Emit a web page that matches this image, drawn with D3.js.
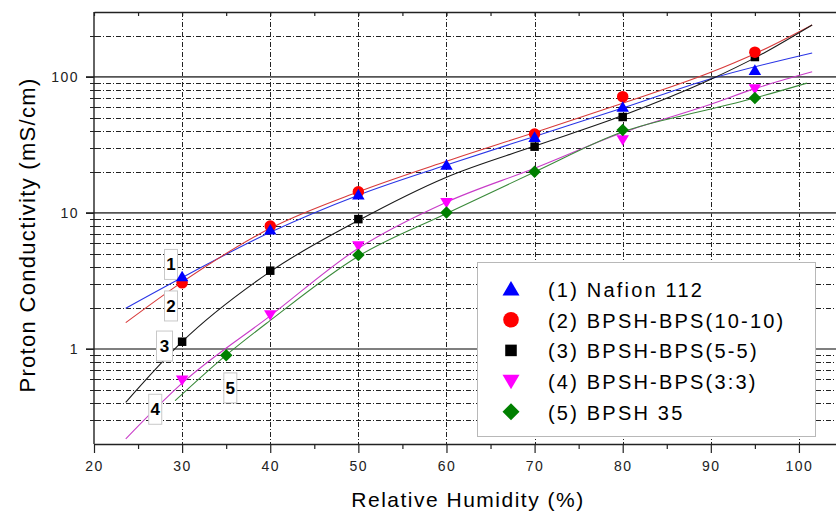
<!DOCTYPE html>
<html>
<head>
<meta charset="utf-8">
<script src="https://cdn.jsdelivr.net/npm/d3@7"></script>
<style>
    body { margin: 0; background: #fff; }
    svg { display: block; font-family: "Liberation Sans", Arial, sans-serif; }
</style>
</head>
<body>
<svg id="chart" width="836" height="512"></svg>
<script>
// tick values
const X_TICKS = [20, 30, 40, 50, 60, 70, 80, 90, 100];
const X_MINOR = [25, 35, 45, 55, 65, 75, 85, 95];
const Y_TICKS = [1, 10, 100];
const Y_MINOR = [0.3, 0.4, 0.5, 0.6, 0.7, 0.8, 0.9, 2, 3, 4, 5, 6, 7, 8, 9, 20, 30, 40, 50, 60, 70, 80, 90, 200];

const SERIES_LABELS = [
    "(1) Nafion 112",
    "(2) BPSH-BPS(10-10)",
    "(3) BPSH-BPS(5-5)",
    "(4) BPSH-BPS(3:3)",
    "(5) BPSH 35",
];

// measured points (RH %, mS/cm)
const NAFION_RH = [30, 40, 50, 60, 70, 80, 95];
const NAFION_VAL = [3.4, 7.5, 13.6, 22.5, 36, 60, 112];
const BPS1010_RH = [30, 40, 50, 70, 80, 95];
const BPS1010_VAL = [3.06, 8.0, 14.3, 38, 71.6, 152];
const BPS55_RH = [30, 40, 50, 70, 80, 95];
const BPS55_VAL = [1.13, 3.76, 9.0, 30.7, 50.7, 140];
const BPS33_RH = [30, 40, 50, 60, 80, 95];
const BPS33_VAL = [0.59, 1.78, 5.72, 11.9, 34.4, 81.6];
const BPSH35_RH = [35, 50, 60, 70, 80, 95];
const BPSH35_VAL = [0.9, 4.9, 10.05, 20.1, 40.7, 70];

// fitted curves
const FIT1_RH = [23.6, 30, 40, 50, 60, 70, 80, 90, 101.5];
const FIT1_VAL = [1.99, 3.35, 7.2, 13.5, 22.5, 36.5, 59, 97, 150];
const FIT2_RH = [23.6, 30, 40, 50, 60, 70, 80, 90, 95, 101.5];
const FIT2_VAL = [1.56, 3.1, 7.7, 14.3, 24, 39, 64, 108, 148, 241];
const FIT3_RH = [23.6, 30, 40, 50, 60, 70, 80, 90, 95, 101.5];
const FIT3_VAL = [0.405, 1.13, 3.7, 8.8, 18.3, 31, 52, 96, 138, 241];
const FIT4_RH = [23.6, 30, 40, 50, 60, 70, 80, 90, 95, 101.5];
const FIT4_VAL = [0.218, 0.56, 1.75, 5.5, 12, 21.3, 39, 63, 82, 109];
const FIT5_RH = [29.2, 35, 40, 50, 60, 70, 80, 90, 95, 100.9];
const FIT5_VAL = [0.416, 0.9, 1.62, 4.8, 9.9, 20, 39.5, 58, 70, 90];

// number tags next to the curve starts (box centre in data units)
const TAG_TEXT = ["1", "2", "3", "4", "5"];
const TAG_RH = [28.74, 28.74, 28.0, 26.95, 35.47];
const TAG_VAL = [4.18, 2.07, 1.05, 0.36, 0.517];

const MARKER_COLORS = ["#0000ff", "#ff0000", "#000000", "#ff00ff", "#008000"];
const LINE_COLORS = ["#2a35e6", "#d83a3a", "#1a1a1a", "#c83cc8", "#3a8a3a"];
const MARKER_TYPES = ["triUp", "circle", "square", "triDown", "diamond"];
const DRAW_ORDER = [2, 3, 1, 0, 4];

const series = [
    { rh: NAFION_RH, val: NAFION_VAL, fitRh: FIT1_RH, fitVal: FIT1_VAL },
    { rh: BPS1010_RH, val: BPS1010_VAL, fitRh: FIT2_RH, fitVal: FIT2_VAL },
    { rh: BPS55_RH, val: BPS55_VAL, fitRh: FIT3_RH, fitVal: FIT3_VAL },
    { rh: BPS33_RH, val: BPS33_VAL, fitRh: FIT4_RH, fitVal: FIT4_VAL },
    { rh: BPSH35_RH, val: BPSH35_VAL, fitRh: FIT5_RH, fitVal: FIT5_VAL },
];

const LEFT = 94;
const TOP = 12;
const BOTTOM = 444;
const RIGHT = 843;

const x = d3.scaleLinear().domain([20, 105]).range([LEFT, RIGHT]);
const y = d3.scaleLog().domain([0.2, 300]).range([BOTTOM, TOP]);

const svg = d3.select("#chart");
svg.append("rect").attr("width", 836).attr("height", 512).attr("fill", "#fff");

const markerPath = (type, s) => {
    const h = s / 2;
    switch (type) {
        case "triUp":
            return `M0,${-h * 0.95}L${h},${h * 0.75}L${-h},${h * 0.75}Z`;
        case "triDown":
            return `M0,${h * 0.95}L${h},${-h * 0.75}L${-h},${-h * 0.75}Z`;
        case "square":
            return `M${-h * 0.68},${-h * 0.68}h${s * 0.68}v${s * 0.68}h${-s * 0.68}Z`;
        case "diamond":
            return `M0,${-h}L${h},0L0,${h}L${-h},0Z`;
        default:
            return d3.arc().innerRadius(0).outerRadius(h * 0.92).startAngle(0).endAngle(2 * Math.PI)();
    }
};

// grid
const grid = svg.append("g");
grid.selectAll("line.hminor")
    .data(Y_MINOR)
    .enter()
    .append("line")
    .attr("x1", LEFT + 2)
    .attr("x2", RIGHT)
    .attr("y1", (d) => Math.round(y(d)) + 0.5)
    .attr("y2", (d) => Math.round(y(d)) + 0.5)
    .attr("stroke", "#222")
    .attr("stroke-width", 1)
    .attr("stroke-dasharray", "5,2,1,2");

grid.selectAll("line.vgrid")
    .data(X_TICKS.slice(1))
    .enter()
    .append("line")
    .attr("x1", (d) => Math.round(x(d)) + 0.5)
    .attr("x2", (d) => Math.round(x(d)) + 0.5)
    .attr("y1", TOP)
    .attr("y2", BOTTOM)
    .attr("stroke", "#222")
    .attr("stroke-width", 1)
    .attr("stroke-dasharray", "5,2,1,2");

grid.selectAll("line.hmajor")
    .data(Y_TICKS)
    .enter()
    .append("line")
    .attr("x1", LEFT - 8)
    .attr("x2", RIGHT)
    .attr("y1", (d) => y(d))
    .attr("y2", (d) => y(d))
    .attr("stroke", "#555")
    .attr("stroke-width", 1.6);

// left minor ticks, crossing the axis
grid.selectAll("line.yminor")
    .data(Y_MINOR)
    .enter()
    .append("line")
    .attr("x1", LEFT - 4)
    .attr("x2", LEFT + 3)
    .attr("y1", (d) => Math.round(y(d)) + 0.5)
    .attr("y2", (d) => Math.round(y(d)) + 0.5)
    .attr("stroke", "#222");

// axes
const styleAxis = (g) => {
    g.selectAll("path.domain").attr("stroke", "#222").attr("stroke-width", 1.4);
    g.selectAll(".tick line").attr("stroke", "#222").attr("stroke-width", 1.2);
    g.selectAll(".tick text")
        .attr("fill", "#222")
        .style("font-size", "14px")
        .style("letter-spacing", "1.5px")
        .style("font-family", '"Liberation Sans", Arial, sans-serif');
};

svg.append("g")
    .attr("transform", `translate(0,${BOTTOM})`)
    .call(d3.axisBottom(x).tickValues(X_TICKS).tickSize(9).tickSizeOuter(0).tickPadding(8).tickFormat(d3.format("d")))
    .call(styleAxis);

svg.append("g")
    .attr("transform", `translate(0,${BOTTOM})`)
    .call(d3.axisBottom(x).tickValues(X_MINOR).tickSize(5).tickSizeOuter(0).tickFormat(""))
    .call(styleAxis)
    .call((g) => g.select("path.domain").remove());

svg.append("g")
    .attr("transform", `translate(0,${TOP})`)
    .call(d3.axisTop(x).tickValues(X_MINOR.concat(X_TICKS)).tickSize(-4).tickSizeOuter(0).tickFormat(""))
    .call(styleAxis);

svg.append("g")
    .attr("transform", `translate(${LEFT},0)`)
    .call(d3.axisLeft(y).tickValues(Y_TICKS).tickSize(8).tickSizeOuter(0).tickPadding(7).tickFormat(d3.format("d")))
    .call(styleAxis)
    .call((g) => g.select("path.domain").attr("d", `M0,${TOP}V${BOTTOM}`));

// axis titles
svg.append("text")
    .attr("transform", `translate(35,235) rotate(-90)`)
    .attr("text-anchor", "middle")
    .style("font-size", "22px")
    .style("letter-spacing", "1.3px")
    .text("Proton Conductivity (mS/cm)");

svg.append("text")
    .attr("x", 468)
    .attr("y", 507)
    .attr("text-anchor", "middle")
    .style("font-size", "21px")
    .style("letter-spacing", "1.5px")
    .text("Relative Humidity (%)");

// curves
const plot = svg.append("g");
const line = d3
    .line()
    .x((d) => x(d[0]))
    .y((d) => y(d[1]))
    .curve(d3.curveMonotoneX);

series.forEach((s, i) => {
    plot.append("path")
        .attr("d", line(d3.zip(s.fitRh, s.fitVal)))
        .attr("fill", "none")
        .attr("stroke", LINE_COLORS[i])
        .attr("stroke-width", 1.1);
});

// number tags
TAG_TEXT.forEach((t, i) => {
    const cx = x(TAG_RH[i]);
    const cy = y(TAG_VAL[i]);
    const w = i == 2 ? 16 : 13;
    plot.append("rect")
        .attr("x", cx - w / 2)
        .attr("y", cy - 15)
        .attr("width", w)
        .attr("height", 30)
        .attr("fill", "#fff")
        .attr("stroke", "#c8c8c8");
    plot.append("text")
        .attr("x", cx)
        .attr("y", cy + 6)
        .attr("text-anchor", "middle")
        .style("font-size", "17px")
        .style("font-weight", "bold")
        .text(t);
});

// markers
DRAW_ORDER.forEach((i) => {
    const s = series[i];
    plot.selectAll(null)
        .data(d3.zip(s.rh, s.val))
        .enter()
        .append("path")
        .attr("transform", (d) => `translate(${x(d[0])},${y(d[1])})`)
        .attr("d", markerPath(MARKER_TYPES[i], 12.5))
        .attr("fill", MARKER_COLORS[i]);
});

// legend
const legend = svg.append("g");
legend.append("rect")
    .attr("x", 477.5)
    .attr("y", 262.5)
    .attr("width", 338)
    .attr("height", 174)
    .attr("fill", "#fff")
    .attr("stroke", "#b8b8b8");

SERIES_LABELS.forEach((label, i) => {
    const cy = 289 + i * 30.7;
    legend.append("path")
        .attr("transform", `translate(511,${cy})`)
        .attr("d", markerPath(MARKER_TYPES[i], 17))
        .attr("fill", MARKER_COLORS[i]);
    legend.append("text")
        .attr("x", 548)
        .attr("y", cy + 8)
        .style("font-size", "20px")
        .style("letter-spacing", "2.2px")
        .text(label);
});
</script>
</body>
</html>
